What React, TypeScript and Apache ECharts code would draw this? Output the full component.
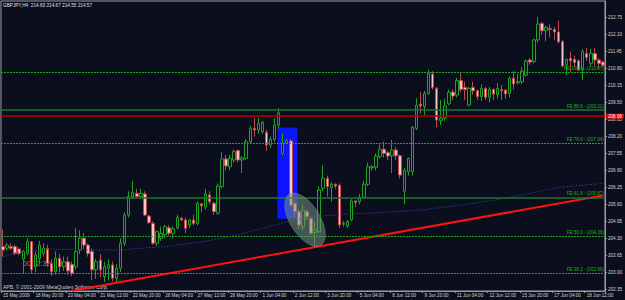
import React, { useEffect, useRef } from "react";
import * as echarts from "echarts";

// ---- x axis tick labels (one every LABEL_EVERY bars) ----
const timeLabels = [
  "15 May 2009", "18 May 20:00", "20 May 04:00", "21 May 12:00", "22 May 20:00",
  "26 May 04:00", "27 May 12:00", "28 May 20:00", "1 Jun 04:00", "2 Jun 12:00",
  "3 Jun 20:00", "5 Jun 04:00", "8 Jun 12:00", "9 Jun 20:00", "11 Jun 04:00",
  "12 Jun 12:00", "15 Jun 20:00", "17 Jun 04:00", "18 Jun 12:00",
];
const LABEL_EVERY = 8;

// ---- candles (GBPJPY H4) ----
const opens = [
  203.98, 203.92, 203.98, 203.98, 203.89, 203.50, 203.72, 204.17, 203.21, 203.53,
  203.72, 203.92, 203.34, 203.02, 203.53, 203.21, 203.40, 203.30, 203.21, 203.85,
  204.30, 204.04, 203.79, 203.09, 203.47, 202.83, 203.15, 203.28, 202.77, 203.15,
  204.11, 205.19, 205.90, 206.02, 205.90, 206.00, 205.15, 204.87, 204.11, 204.30,
  204.43, 204.70, 204.49, 204.70, 205.07, 205.00, 204.81, 205.00, 204.87, 205.62,
  205.50, 205.96, 205.64, 205.26, 206.28, 207.34, 207.04, 207.30, 207.66, 207.30,
  207.36, 208.00, 208.51, 208.45, 208.38, 208.36, 207.87, 208.09, 208.64, 207.55,
  207.94, 208.03, 205.64, 205.32, 204.74, 205.32, 205.06, 204.52, 204.55, 206.21,
  206.60, 206.24, 206.37, 206.33, 204.84, 204.77, 205.00, 205.73, 205.70, 205.87,
  206.37, 207.00, 207.02, 207.43, 207.71, 207.58, 207.46, 207.68, 207.46, 206.10,
  206.85, 206.85, 208.51, 209.44, 209.34, 209.85, 210.59, 210.04, 208.80, 208.90,
  209.45, 209.90, 209.79, 210.34, 210.08, 209.40, 210.08, 209.95, 209.73, 210.04,
  209.70, 210.00, 209.80, 210.00, 209.98, 209.85, 210.43, 210.25, 210.30, 210.55,
  211.13, 211.07, 211.90, 212.53, 212.25, 212.34, 212.30, 212.20, 211.83, 210.94,
  211.19, 211.15, 211.10, 210.75, 211.38, 211.00, 211.38, 211.13, 211.05,
];
const closes = [
  203.85, 204.04, 203.92, 203.72, 203.72, 203.79, 204.17, 203.09, 203.66, 204.04,
  203.92, 203.34, 203.02, 203.53, 203.21, 203.40, 203.05, 202.96, 203.79, 204.30,
  204.04, 203.72, 203.09, 203.40, 203.09, 203.21, 203.28, 202.77, 203.15, 204.11,
  205.19, 205.90, 206.05, 205.90, 206.02, 205.19, 204.90, 204.11, 204.55, 204.49,
  204.75, 204.49, 204.66, 205.10, 205.00, 204.68, 205.00, 204.87, 205.64, 205.54,
  206.00, 205.70, 205.32, 206.30, 207.34, 207.07, 207.36, 207.62, 207.30, 207.38,
  208.00, 208.51, 208.45, 208.70, 208.74, 207.87, 208.09, 208.64, 209.11, 207.94,
  208.04, 205.57, 205.32, 204.81, 205.38, 205.13, 204.49, 204.62, 206.15, 206.60,
  206.28, 206.37, 206.30, 204.81, 204.88, 204.94, 205.73, 205.68, 205.87, 206.37,
  207.04, 207.04, 207.45, 207.71, 207.55, 207.45, 207.68, 207.46, 206.72, 206.90,
  207.36, 208.55, 209.40, 209.37, 209.85, 210.64, 210.08, 208.83, 208.90, 209.37,
  209.90, 209.75, 210.34, 210.00, 210.00, 210.04, 209.95, 209.73, 210.04, 209.70,
  210.00, 209.83, 210.04, 209.95, 209.83, 210.43, 210.21, 210.30, 210.70, 211.09,
  211.05, 211.90, 212.51, 212.25, 212.38, 212.30, 212.20, 211.83, 210.90, 211.15,
  211.10, 211.03, 210.75, 211.45, 211.23, 211.38, 211.13, 211.00, 210.93,
];
const lows = [
  203.60, 203.83, 203.85, 203.65, 203.65, 202.96, 203.65, 202.96, 203.00, 203.30,
  203.60, 203.20, 202.85, 202.90, 203.00, 203.05, 202.90, 202.85, 203.10, 203.70,
  203.90, 203.60, 202.70, 202.75, 202.80, 202.62, 202.70, 202.65, 202.62, 203.00,
  204.00, 205.10, 205.80, 205.85, 205.80, 205.15, 204.85, 204.05, 204.00, 204.20,
  204.30, 204.40, 204.30, 204.65, 204.95, 204.50, 204.70, 204.80, 204.80, 205.30,
  205.40, 205.60, 205.20, 205.20, 206.20, 206.90, 206.90, 207.20, 207.20, 206.80,
  207.30, 207.90, 208.20, 208.30, 208.30, 207.65, 207.75, 208.00, 208.50, 207.49,
  207.90, 205.50, 205.10, 204.65, 204.60, 205.00, 204.45, 203.98, 204.50, 206.10,
  205.90, 205.70, 206.20, 204.70, 204.75, 204.70, 204.95, 205.50, 205.60, 205.80,
  206.30, 206.90, 206.90, 207.35, 207.40, 207.30, 206.80, 207.30, 206.60, 205.60,
  206.70, 206.70, 208.45, 209.08, 209.00, 209.80, 210.00, 208.55, 208.64, 208.80,
  209.40, 209.60, 209.70, 209.90, 209.60, 209.35, 209.80, 209.60, 209.55, 209.60,
  209.50, 209.60, 209.65, 209.60, 209.65, 209.70, 210.00, 210.20, 210.20, 210.50,
  210.95, 211.00, 211.80, 212.10, 211.85, 212.00, 211.90, 211.77, 210.85, 210.55,
  210.68, 210.85, 210.70, 210.36, 211.10, 210.90, 210.90, 210.80, 210.85,
];
const highs = [
  204.64, 204.11, 204.10, 204.05, 203.96, 203.85, 204.30, 204.20, 203.80, 204.20,
  204.10, 204.05, 203.50, 203.80, 203.70, 203.60, 203.60, 203.40, 204.70, 204.60,
  204.50, 204.10, 203.90, 203.50, 203.70, 203.40, 203.50, 203.40, 203.30, 204.30,
  205.30, 206.10, 206.50, 206.20, 206.20, 206.10, 205.20, 204.95, 204.60, 204.75,
  204.80, 204.80, 204.75, 205.20, 205.10, 205.10, 205.05, 205.20, 205.70, 205.65,
  206.20, 206.10, 205.70, 206.40, 207.60, 207.50, 207.50, 207.70, 207.70, 207.45,
  208.10, 208.60, 208.90, 208.90, 208.80, 208.45, 208.20, 208.90, 209.28, 208.32,
  208.10, 208.10, 205.70, 205.40, 205.60, 205.40, 205.10, 204.94, 206.30, 207.10,
  206.70, 206.45, 206.40, 206.40, 204.95, 205.00, 205.80, 205.75, 206.00, 206.50,
  207.20, 207.10, 207.55, 207.90, 208.00, 207.65, 208.07, 207.80, 207.50, 207.00,
  207.40, 208.60, 209.66, 209.90, 209.95, 210.75, 210.70, 210.10, 209.60, 209.65,
  210.00, 210.00, 210.45, 210.65, 210.30, 210.10, 210.30, 210.00, 210.20, 210.10,
  210.10, 210.05, 210.25, 210.17, 210.00, 210.50, 210.70, 210.60, 210.85, 211.15,
  211.20, 211.95, 212.77, 212.60, 212.45, 212.50, 212.40, 212.64, 211.90, 211.20,
  211.45, 211.30, 211.15, 211.55, 211.60, 211.55, 211.60, 211.20, 211.10,
];

// ---- dotted blue moving average, read at these bars ----
const maBars = [0, 4, 12, 24, 29, 35, 40, 45, 49, 53, 57, 65, 70, 76, 85, 94, 103, 112, 122, 130, 137, 148];
const maValues = [203.59, 203.78, 203.88, 203.85, 203.85, 203.93, 203.98, 204.08, 204.16, 204.27, 204.40, 204.72, 204.93, 205.12, 205.23, 205.29, 205.38, 205.55, 205.78, 206.02, 206.25, 206.40];

// ---- Fibonacci expansion levels ----
const feLevels = ["100.0", "88.6", "78.6", "61.8", "50.0", "38.2"];
const fePrices = [210.67, 209.21, 207.94, 205.87, 204.39, 202.96];
const feSolid = [false, true, false, true, false, false];

// ---- red horizontal level ----
const redLevel = 208.98;

// ---- red trend line (bar, price) ----
const trendBars = [17, 148];
const trendPrices = [202.29, 205.94];

// ---- blue rectangle (bars, prices) ----
const boxBars = [67.7, 72.65];
const boxPrices = [208.54, 205.05];

// ---- ellipse: centre, major and minor half-axis vectors in (bars, price) ----
const ellipseCenter = [74.5, 205.01];
const ellipseMajor = [3.9, -0.973];
const ellipseMinor = [-3.12, -0.305];

// ---- price axis labels ----
const priceTicks = [
  202.35, 203.0, 203.65, 204.3, 204.95, 205.6, 206.25, 206.9, 207.55,
  208.2, 208.85, 209.5, 210.15, 210.8, 211.45, 212.1, 212.75,
];
const Y_MIN = 202.28;
const Y_MAX = 213.39;

const BG = "#0b0e1c";
const FONT = "Liberation Sans, Arial, sans-serif";

function toPx(api: any, b: number, p: number): number[] {
  const i0 = Math.floor(b);
  const c0 = api.coord([i0, p]);
  const c1 = api.coord([i0 + 1, p]);
  return [c0[0] + (c1[0] - c0[0]) * (b - i0), c0[1]];
}

export default function App() {
  const ref = useRef<HTMLDivElement>(null);

  useEffect(() => {
    if (!ref.current) return;
    const chart = echarts.init(ref.current, null, { renderer: "svg" });
    const categories = opens.map((_, i) => String(i));
    const candles = opens.map((o, i) => [o, closes[i], lows[i], highs[i]]);

    const markData: any[] = feLevels.map((lvl, k) => ({
      yAxis: fePrices[k],
      lineStyle: feSolid[k]
        ? { color: "#1d7436", width: 1.5, type: "solid" }
        : { color: "#1fa81f", width: 1, type: [2, 1] },
      label: {
        show: true,
        position: "insideEndTop",
        distance: 1,
        formatter: `FE ${lvl} - (${fePrices[k].toFixed(2)})`,
        color: "#22b022",
        fontSize: 4.6,
        fontFamily: FONT,
      },
    }));
    markData.push({
      yAxis: redLevel,
      lineStyle: { color: "#b80000", width: 1.5, type: "solid" },
      label: {
        show: true,
        position: "end",
        distance: 1,
        formatter: redLevel.toFixed(2),
        color: "#ffffff",
        backgroundColor: "#e00000",
        padding: [0, 2, 0, 2],
        lineHeight: 5,
        fontSize: 4.6,
        fontFamily: FONT,
      },
    });

    const option: any = {
      animation: false,
      backgroundColor: BG,
      grid: {
        left: 0,
        right: 18,
        top: 1,
        bottom: 9,
        show: true,
        borderColor: "#9a9aa2",
        borderWidth: 1,
        backgroundColor: BG,
      },
      xAxis: {
        type: "category",
        data: categories,
        boundaryGap: true,
        axisLine: { show: true, lineStyle: { color: "#9a9aa2" } },
        axisTick: {
          show: true,
          interval: (i: number) => i % LABEL_EVERY === 0,
          length: 2,
          lineStyle: { color: "#9a9aa2" },
        },
        axisLabel: {
          show: true,
          interval: (i: number) => i % LABEL_EVERY === 0,
          formatter: (v: string) => timeLabels[Number(v) / LABEL_EVERY] ?? "",
          align: "left",
          margin: 2,
          color: "#d6d6d6",
          fontSize: 4.6,
          fontFamily: FONT,
        },
        splitLine: { show: false },
      },
      yAxis: {
        type: "value",
        position: "right",
        min: Y_MIN,
        max: Y_MAX,
        axisLine: { show: true, lineStyle: { color: "#9a9aa2" } },
        axisTick: {
          show: true,
          customValues: priceTicks,
          length: 2,
          lineStyle: { color: "#9a9aa2" },
        },
        axisLabel: {
          show: true,
          customValues: priceTicks,
          formatter: (v: number) => v.toFixed(2),
          margin: 3,
          color: "#d6d6d6",
          fontSize: 4.6,
          fontFamily: FONT,
        },
        splitLine: { show: false },
      },
      series: [
        {
          type: "custom",
          name: "box",
          z: 1,
          silent: true,
          data: [[0, 0]],
          renderItem: (_p: any, api: any) => {
            const a = toPx(api, boxBars[0], boxPrices[0]);
            const b = toPx(api, boxBars[1], boxPrices[1]);
            return {
              type: "rect",
              shape: { x: a[0], y: a[1], width: b[0] - a[0], height: b[1] - a[1] },
              style: { fill: "#0a14ff" },
            };
          },
        },
        {
          type: "candlestick",
          name: "GBPJPY",
          z: 2,
          data: candles,
          barWidth: 3,
          itemStyle: {
            color: BG,
            color0: "#f3c8c8",
            borderColor: "#1fa51f",
            borderColor0: "#c04848",
            borderWidth: 1,
          },
          markLine: {
            silent: true,
            symbol: ["none", "none"],
            animation: false,
            data: markData,
          },
        },
        {
          type: "line",
          name: "MA",
          z: 3,
          data: maBars.map((b, k) => [b, maValues[k]]),
          showSymbol: false,
          symbol: "none",
          lineStyle: { color: "#2b3c96", width: 1, type: [1.5, 1.5] },
          silent: true,
        },
        {
          type: "line",
          name: "trend",
          z: 4,
          data: trendBars.map((b, k) => [b, trendPrices[k]]),
          showSymbol: false,
          symbol: "none",
          lineStyle: { color: "#ff1212", width: 2 },
          silent: true,
        },
        {
          type: "custom",
          name: "ellipse",
          z: 5,
          silent: true,
          data: [[0, 0]],
          renderItem: (_p: any, api: any) => {
            const pts: number[][] = [];
            for (let k = 0; k < 60; k++) {
              const t = (k / 60) * Math.PI * 2;
              const b = ellipseCenter[0] + ellipseMajor[0] * Math.cos(t) + ellipseMinor[0] * Math.sin(t);
              const p = ellipseCenter[1] + ellipseMajor[1] * Math.cos(t) + ellipseMinor[1] * Math.sin(t);
              pts.push(toPx(api, b, p));
            }
            return {
              type: "polygon",
              shape: { points: pts },
              style: { fill: "rgba(115,145,125,0.55)", stroke: "rgba(130,160,140,0.4)", lineWidth: 1 },
            };
          },
        },
      ],
      graphic: [
        {
          type: "text",
          left: 3,
          top: 3,
          style: { text: "GBPJPY,H4  214.63 214.67 214.55 214.57", fill: "#e0e0e0", fontSize: 4.7, fontFamily: FONT },
        },
        {
          type: "text",
          left: 3,
          top: 284,
          style: { text: "APB, © 2001-2009 MetaQuotes Software Corp.", fill: "#d0d0d0", fontSize: 5, fontFamily: FONT },
        },
        {
          type: "text",
          left: 23,
          top: 260,
          style: { text: "00:12:32", fill: "rgba(170,175,180,0.75)", fontSize: 7, fontFamily: FONT },
        },
        {
          type: "text",
          left: 58,
          top: 260,
          style: { text: "Bar", fill: "rgba(170,175,180,0.75)", fontSize: 7, fontFamily: FONT },
        },
      ],
    };
    chart.setOption(option);
    return () => chart.dispose();
  }, []);

  return (
    <div
      ref={ref}
      style={{ position: "fixed", left: 0, top: 0, width: 625, height: 300, background: BG }}
    />
  );
}
